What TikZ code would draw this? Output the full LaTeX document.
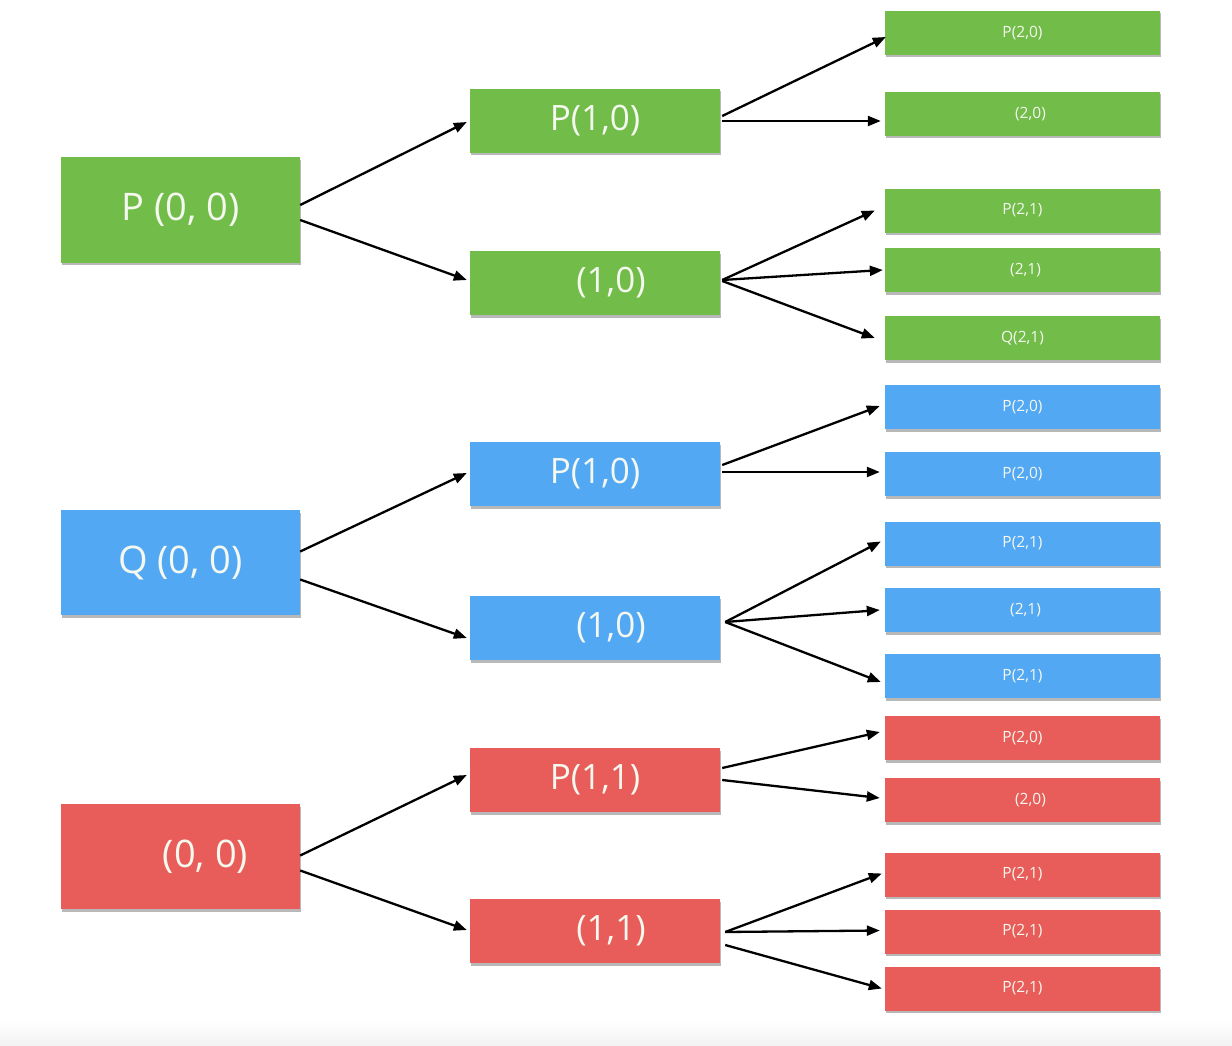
\documentclass[tikz,border=0pt]{standalone}
\usepackage{fontspec}
\setmainfont{Open Sans}
\usetikzlibrary{arrows.meta,calc,shadows}
\definecolor{gbox}{HTML}{72BC4A}
\definecolor{bbox}{HTML}{53A8F4}
\definecolor{rbox}{HTML}{E85D5A}
\definecolor{txt}{HTML}{F4F8EE}
\tikzset{
  box/.style={draw=none, text=txt, inner sep=0pt,
    drop shadow={shadow xshift=0.5pt, shadow yshift=-2.5pt, opacity=0.28, fill=black}},
  lbox/.style={box, minimum width=239pt, minimum height=105pt, font=\fontsize{38}{44}\selectfont},
  mbox/.style={box, minimum width=250pt, minimum height=64pt, font=\fontsize{35}{40}\selectfont},
  rbox/.style={box, minimum width=275pt, minimum height=44pt, font=\fontsize{15.5}{18}\selectfont},
  arr/.style={draw=black, line width=2.3pt, -{Triangle[length=13pt,width=10pt]}},
}
\begin{document}
\begin{tikzpicture}[x=1pt,y=-1pt]
\useasboundingbox (0,0) rectangle (1232,1046);
\fill[white] (0,0) rectangle (1232,1046);
\shade[top color=white, bottom color=black!5] (0,1020) rectangle (1232,1046);
% left
\node[lbox, fill=gbox] (L1) at (180.5,210) {P (0, 0)};
\node[lbox, fill=bbox] (L2) at (180.5,562.5) {Q (0, 0)};
\node[lbox, fill=rbox] (L3) at (180.5,856.5) {\hspace*{50pt}(0, 0)};
% middle
\node[mbox, fill=gbox] (M1) at (595,121) {P(1,0)};
\node[mbox, fill=gbox] (M2) at (595,283) {\hspace*{32pt}(1,0)};
\node[mbox, fill=bbox] (M3) at (595,474) {P(1,0)};
\node[mbox, fill=bbox] (M4) at (595,628) {\hspace*{32pt}(1,0)};
\node[mbox, fill=rbox] (M5) at (595,780) {P(1,1)};
\node[mbox, fill=rbox] (M6) at (595,931) {\hspace*{32pt}(1,1)};
% right
\node[rbox, fill=gbox] (R1) at (1022.5,33) {P(2,0)};
\node[rbox, fill=gbox] (R2) at (1022.5,114) {\hspace*{16pt}(2,0)};
\node[rbox, fill=gbox] (R3) at (1022.5,210.5) {P(2,1)};
\node[rbox, fill=gbox] (R4) at (1022.5,270) {\hspace*{6pt}(2,1)};
\node[rbox, fill=gbox] (R5) at (1022.5,338) {Q(2,1)};
\node[rbox, fill=bbox] (R6) at (1022.5,407) {P(2,0)};
\node[rbox, fill=bbox] (R7) at (1022.5,474) {P(2,0)};
\node[rbox, fill=bbox] (R8) at (1022.5,543.5) {P(2,1)};
\node[rbox, fill=bbox] (R9) at (1022.5,610) {\hspace*{6pt}(2,1)};
\node[rbox, fill=bbox] (R10) at (1022.5,676) {P(2,1)};
\node[rbox, fill=rbox] (R11) at (1022.5,738) {P(2,0)};
\node[rbox, fill=rbox] (R12) at (1022.5,800) {\hspace*{16pt}(2,0)};
\node[rbox, fill=rbox] (R13) at (1022.5,874.5) {P(2,1)};
\node[rbox, fill=rbox] (R14) at (1022.5,931.5) {P(2,1)};
\node[rbox, fill=rbox] (R15) at (1022.5,988.5) {P(2,1)};
% left -> middle
\draw[arr] ($(L1.east)+(0,-5)$) -- ($(M1.west)+(-3,1)$);
\draw[arr] ($(L1.east)+(0,10)$) -- ($(M2.west)+(-3,-3)$);
\draw[arr] ($(L2.east)+(0,-11)$) -- ($(M3.west)+(-3,-1)$);
\draw[arr] ($(L2.east)+(0,17)$) -- ($(M4.west)+(-3,10)$);
\draw[arr] ($(L3.east)+(0,-1)$) -- ($(M5.west)+(-3,-5)$);
\draw[arr] ($(L3.east)+(0,14)$) -- ($(M6.west)+(-3,-1)$);
% middle -> right
\draw[arr] ($(M1.east)+(2,-5)$) -- ($(R1.west)+(1,4)$);
\draw[arr] ($(M1.east)+(2,0)$) -- ($(R2.west)+(-4,7)$);
\draw[arr] ($(M2.east)+(2,-3)$) -- ($(R3.west)+(-10,0)$);
\draw[arr] ($(M2.east)+(2,-3)$) -- ($(R4.west)+(-2,0)$);
\draw[arr] ($(M2.east)+(2,-2)$) -- ($(R5.west)+(-10,0)$);
\draw[arr] ($(M3.east)+(2,-9)$) -- ($(R6.west)+(-5,-1)$);
\draw[arr] ($(M3.east)+(2,-2)$) -- ($(R7.west)+(-5,-2)$);
\draw[arr] ($(M4.east)+(5,-6)$) -- ($(R8.west)+(-4,-2)$);
\draw[arr] ($(M4.east)+(5,-6)$) -- ($(R9.west)+(-5,0)$);
\draw[arr] ($(M4.east)+(5,-6)$) -- ($(R10.west)+(-4,6)$);
\draw[arr] ($(M5.east)+(2,-12)$) -- ($(R11.west)+(-5,-6)$);
\draw[arr] ($(M5.east)+(2,0)$) -- ($(R12.west)+(-5,-2)$);
\draw[arr] ($(M6.east)+(5,1)$) -- ($(R13.west)+(-3,-1)$);
\draw[arr] ($(M6.east)+(5,1)$) -- ($(R14.west)+(-5,-1)$);
\draw[arr] ($(M6.east)+(5,14)$) -- ($(R15.west)+(-3,0)$);
\end{tikzpicture}
\end{document}
